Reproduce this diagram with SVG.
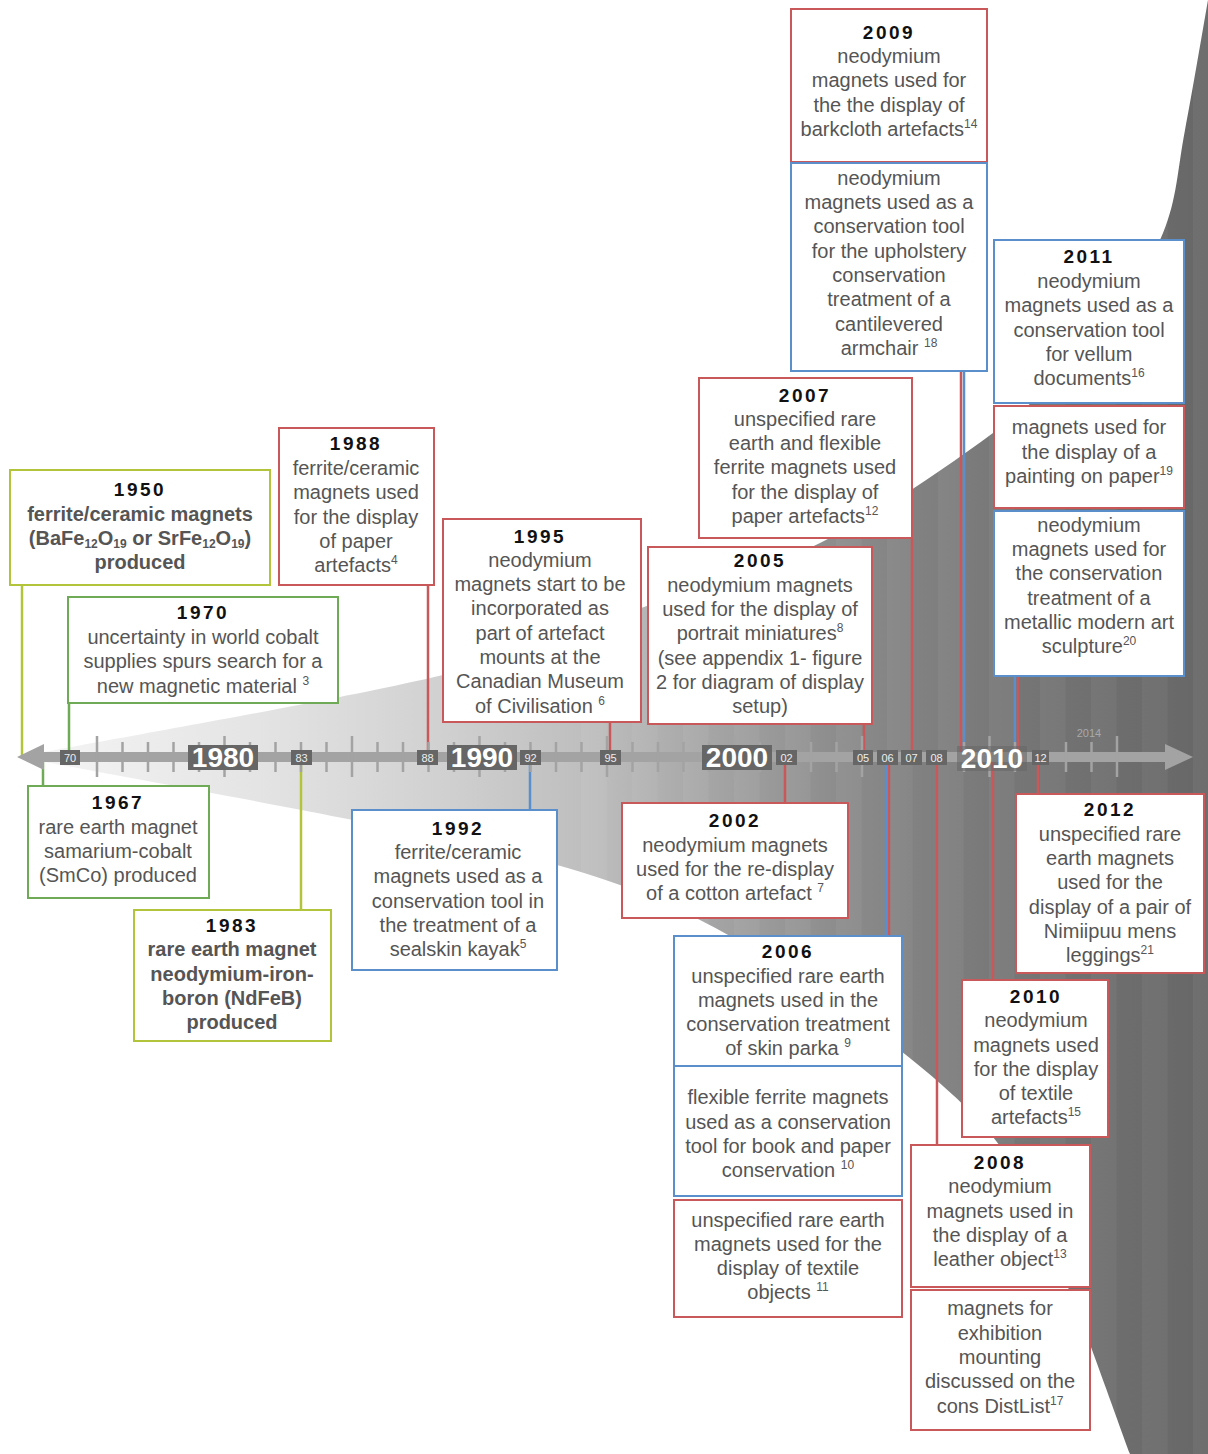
<svg xmlns="http://www.w3.org/2000/svg" width="1208" height="1454" viewBox="0 0 1208 1454">
<defs>
<linearGradient id="wg" gradientUnits="userSpaceOnUse" x1="18" y1="0" x2="1208" y2="0">
<stop offset="0" stop-color="#f6f6f6"/>
<stop offset="0.2" stop-color="#e4e4e4"/>
<stop offset="0.36" stop-color="#d0d0d0"/>
<stop offset="0.49" stop-color="#bcbcbc"/>
<stop offset="0.57" stop-color="#a8a8a8"/>
<stop offset="0.68" stop-color="#8e8e8e"/>
<stop offset="0.75" stop-color="#828282"/>
<stop offset="0.83" stop-color="#777777"/>
<stop offset="0.92" stop-color="#6e6e6e"/>
<stop offset="1" stop-color="#676767"/>
</linearGradient>
<clipPath id="wc"><path d="M18,757 C88.8,743.3 338.7,700 443,675 C547.3,650 581.2,629 644,607 C706.8,585 761.8,572 820,543 C878.2,514 946.3,467.7 993,433 C1039.7,398.3 1071.7,368.3 1100,335 C1128.3,301.7 1148.8,267.2 1163,233 C1177.2,198.8 1177.5,168.8 1185,130 C1192.5,91.2 1204.2,21.7 1208,0 L1208,1454 L1130,1454 C1118.3,1423 1082.8,1320.8 1060,1268 C1037.2,1215.2 1026.3,1178.3 993,1137 C959.7,1095.7 908.8,1056.2 860,1020 C811.2,983.8 750.5,945.8 700,920 C649.5,894.2 614.8,881.7 557,865 C499.2,848.3 442.8,838 353,820 C263.2,802 73.8,767.5 18,757 Z"/></clipPath>
<pattern id="stripes" patternUnits="userSpaceOnUse" x="581" y="0" width="51" height="20">
<rect x="0" y="0" width="25.5" height="20" fill="#ffffff" fill-opacity="0.045"/>
</pattern>
<style>
.box{fill:#fff;stroke-width:2}
.r{stroke:#c9585b}
.b{stroke:#5b8fcb}
.g{stroke:#6faa56}
.y{stroke:#b2c53a}
.t{font-family:"Liberation Sans",Arial,sans-serif;font-size:20px;fill:#555;text-anchor:middle}
.yr{font-weight:bold;fill:#111;letter-spacing:2.5px;font-size:19px}
.bd{font-weight:bold}
.sup{font-size:12px}
.sub{font-size:12px}
.cr{stroke:#c9585b;stroke-width:2.5}
.cb{stroke:#5b8fcb;stroke-width:2.5}
.cg{stroke:#6faa56;stroke-width:2.5}
.cy{stroke:#b2c53a;stroke-width:2.5}
.tk{stroke:#a3a3a3;stroke-width:2.5}
.lbl{fill:#666}
.big{font-family:"Liberation Sans",Arial,sans-serif;font-size:28px;font-weight:bold;fill:#fff;text-anchor:middle}
.sm{font-family:"Liberation Sans",Arial,sans-serif;font-size:11px;fill:#eee;text-anchor:middle}
</style>
</defs>
<rect width="1208" height="1454" fill="#fff"/>
<g id="wedge">
<rect x="0" y="0" width="1208" height="1454" fill="url(#wg)" clip-path="url(#wc)"/>
<rect x="581" y="0" width="627" height="1454" fill="url(#stripes)" clip-path="url(#wc)"/>
</g>
<g id="connectors">
<line class="cy" x1="22" y1="585" x2="22" y2="757"/>
<line class="cg" x1="69" y1="703" x2="69" y2="757"/>
<line class="cg" x1="43" y1="757" x2="43" y2="786"/>
<line class="cy" x1="301" y1="757" x2="301" y2="910"/>
<line class="cr" x1="428" y1="585" x2="428" y2="757"/>
<line class="cb" x1="530" y1="757" x2="530" y2="810"/>
<line class="cr" x1="610" y1="722" x2="610" y2="757"/>
<line class="cr" x1="864" y1="724" x2="864" y2="757"/>
<line class="cr" x1="785" y1="757" x2="785" y2="803"/>
<line class="cr" x1="912" y1="538" x2="912" y2="757"/>
<line class="cr" x1="961" y1="371" x2="961" y2="757"/>
<line class="cb" x1="964" y1="371" x2="964" y2="757"/>
<line class="cb" x1="1015" y1="676" x2="1015" y2="757"/>
<line class="cr" x1="1018" y1="676" x2="1018" y2="757"/>
<line class="cr" x1="1038" y1="757" x2="1038" y2="794"/>
<line class="cr" x1="993" y1="757" x2="993" y2="980"/>
<line class="cb" x1="886" y1="757" x2="886" y2="936"/>
<line class="cr" x1="889" y1="757" x2="889" y2="936"/>
<line class="cr" x1="937" y1="757" x2="937" y2="1145"/>
</g>
<g id="axis">
<rect x="40" y="752" width="1128" height="10" fill="#a3a3a3"/>
<polygon points="17,757 44,744 44,770" fill="#a3a3a3"/>
<polygon points="1193,757 1165,744 1165,770" fill="#a3a3a3"/>
<line class="tk" x1="97" y1="736" x2="97" y2="777"/>
<line class="tk" x1="122.5" y1="742" x2="122.5" y2="772"/>
<line class="tk" x1="148" y1="742" x2="148" y2="772"/>
<line class="tk" x1="173.5" y1="742" x2="173.5" y2="772"/>
<line class="tk" x1="199" y1="742" x2="199" y2="772"/>
<line class="tk" x1="224.5" y1="736" x2="224.5" y2="777"/>
<line class="tk" x1="250" y1="742" x2="250" y2="772"/>
<line class="tk" x1="275.5" y1="742" x2="275.5" y2="772"/>
<line class="tk" x1="301" y1="742" x2="301" y2="772"/>
<line class="tk" x1="326.5" y1="742" x2="326.5" y2="772"/>
<line class="tk" x1="352" y1="736" x2="352" y2="777"/>
<line class="tk" x1="377.5" y1="742" x2="377.5" y2="772"/>
<line class="tk" x1="403" y1="742" x2="403" y2="772"/>
<line class="tk" x1="428.5" y1="742" x2="428.5" y2="772"/>
<line class="tk" x1="454" y1="742" x2="454" y2="772"/>
<line class="tk" x1="479.5" y1="736" x2="479.5" y2="777"/>
<line class="tk" x1="505" y1="742" x2="505" y2="772"/>
<line class="tk" x1="530.5" y1="742" x2="530.5" y2="772"/>
<line class="tk" x1="556" y1="742" x2="556" y2="772"/>
<line class="tk" x1="581.5" y1="742" x2="581.5" y2="772"/>
<line class="tk" x1="607" y1="736" x2="607" y2="777"/>
<line class="tk" x1="632.5" y1="742" x2="632.5" y2="772"/>
<line class="tk" x1="658" y1="742" x2="658" y2="772"/>
<line class="tk" x1="683.5" y1="742" x2="683.5" y2="772"/>
<line class="tk" x1="709" y1="742" x2="709" y2="772"/>
<line class="tk" x1="734.5" y1="736" x2="734.5" y2="777"/>
<line class="tk" x1="760" y1="742" x2="760" y2="772"/>
<line class="tk" x1="811" y1="742" x2="811" y2="772"/>
<line class="tk" x1="836.5" y1="742" x2="836.5" y2="772"/>
<line class="tk" x1="862" y1="736" x2="862" y2="777"/>
<line class="tk" x1="964" y1="742" x2="964" y2="772"/>
<line class="tk" x1="989.5" y1="736" x2="989.5" y2="777"/>
<line class="tk" x1="1015" y1="742" x2="1015" y2="772"/>
<line class="tk" x1="1066" y1="742" x2="1066" y2="772"/>
<line class="tk" x1="1091.5" y1="742" x2="1091.5" y2="772"/>
<line class="tk" x1="1117" y1="736" x2="1117" y2="777"/>
<rect class="lbl" x="188" y="745" width="70" height="25"/>
<text class="big" x="223" y="767">1980</text>
<rect class="lbl" x="447" y="745" width="70" height="25"/>
<text class="big" x="482" y="767">1990</text>
<rect class="lbl" x="702" y="745" width="70" height="25"/>
<text class="big" x="737" y="767">2000</text>
<rect class="lbl" x="957" y="746" width="70" height="25" fill-opacity="0.55"/>
<text class="big" x="992" y="768">2010</text>
<rect class="lbl" x="60" y="750" width="20" height="15"/><text class="sm" x="70" y="761.5">70</text>
<rect class="lbl" x="291" y="750" width="21" height="15"/><text class="sm" x="301.5" y="761.5">83</text>
<rect class="lbl" x="417" y="750" width="21" height="15"/><text class="sm" x="427.5" y="761.5">88</text>
<rect class="lbl" x="520" y="750" width="21" height="15"/><text class="sm" x="530.5" y="761.5">92</text>
<rect class="lbl" x="600" y="750" width="21" height="15"/><text class="sm" x="610.5" y="761.5">95</text>
<rect class="lbl" x="776" y="750" width="21" height="15"/><text class="sm" x="786.5" y="761.5">02</text>
<rect class="lbl" x="853" y="750" width="20" height="15"/><text class="sm" x="863" y="761.5">05</text>
<rect class="lbl" x="877" y="750" width="21" height="15"/><text class="sm" x="887.5" y="761.5">06</text>
<rect class="lbl" x="901" y="750" width="21" height="15"/><text class="sm" x="911.5" y="761.5">07</text>
<rect class="lbl" x="926" y="750" width="21" height="15"/><text class="sm" x="936.5" y="761.5">08</text>
<rect class="lbl" x="1032" y="750" width="17" height="15"/><text class="sm" x="1040.5" y="761.5">12</text>
<text class="sm" x="1089" y="737" style="fill:#a9a9a9">2014</text>
</g>
<g id="n1950">
<rect class="box y" x="10" y="470" width="260" height="115"/>
<text class="t"><tspan class="yr" x="140" y="496">1950</tspan><tspan class="bd" x="140" y="521">ferrite/ceramic magnets</tspan><tspan class="bd" x="140" y="545">(BaFe<tspan class="sub" dy="3">12</tspan><tspan dy="-3">O</tspan><tspan class="sub" dy="3">19</tspan><tspan dy="-3"> or SrFe</tspan><tspan class="sub" dy="3">12</tspan><tspan dy="-3">O</tspan><tspan class="sub" dy="3">19</tspan><tspan dy="-3">)</tspan></tspan><tspan class="bd" x="140" y="569">produced</tspan></text>
</g>
<g id="n1970">
<rect class="box g" x="68" y="597" width="270" height="106"/>
<text class="t"><tspan class="yr" x="203" y="619">1970</tspan><tspan x="203" y="644">uncertainty in world cobalt</tspan><tspan x="203" y="668">supplies spurs search for a</tspan><tspan x="203" y="693">new magnetic material <tspan class="sup" dy="-8">3</tspan></tspan></text>
</g>
<g id="n1967">
<rect class="box g" x="28" y="786" width="181" height="112"/>
<text class="t"><tspan class="yr" x="118" y="809">1967</tspan><tspan x="118" y="834">rare earth magnet</tspan><tspan x="118" y="858">samarium-cobalt</tspan><tspan x="118" y="882">(SmCo) produced</tspan></text>
</g>
<g id="n1983">
<rect class="box y" x="134" y="910" width="197" height="131"/>
<text class="t"><tspan class="yr" x="232" y="932">1983</tspan><tspan class="bd" x="232" y="956">rare earth magnet</tspan><tspan class="bd" x="232" y="981">neodymium-iron-</tspan><tspan class="bd" x="232" y="1005">boron (NdFeB)</tspan><tspan class="bd" x="232" y="1029">produced</tspan></text>
</g>
<g id="n1988">
<rect class="box r" x="279" y="428" width="155" height="157"/>
<text class="t"><tspan class="yr" x="356" y="450">1988</tspan><tspan x="356" y="475">ferrite/ceramic</tspan><tspan x="356" y="499">magnets used</tspan><tspan x="356" y="524">for the display</tspan><tspan x="356" y="548">of paper</tspan><tspan x="356" y="572">artefacts<tspan class="sup" dy="-8">4</tspan></tspan></text>
</g>
<g id="n1992">
<rect class="box b" x="352" y="810" width="205" height="160"/>
<text class="t"><tspan class="yr" x="458" y="835">1992</tspan><tspan x="458" y="859">ferrite/ceramic</tspan><tspan x="458" y="883">magnets used as a</tspan><tspan x="458" y="908">conservation tool in</tspan><tspan x="458" y="932">the treatment of a</tspan><tspan x="458" y="956">sealskin kayak<tspan class="sup" dy="-8">5</tspan></tspan></text>
</g>
<g id="n1995">
<rect class="box r" x="443" y="519" width="198" height="203"/>
<text class="t"><tspan class="yr" x="540" y="543">1995</tspan><tspan x="540" y="567">neodymium</tspan><tspan x="540" y="591">magnets start to be</tspan><tspan x="540" y="615">incorporated as</tspan><tspan x="540" y="640">part of artefact</tspan><tspan x="540" y="664">mounts at the</tspan><tspan x="540" y="688">Canadian Museum</tspan><tspan x="540" y="713">of Civilisation <tspan class="sup" dy="-8">6</tspan></tspan></text>
</g>
<g id="n2005">
<rect class="box r" x="648" y="547" width="224" height="177"/>
<text class="t"><tspan class="yr" x="760" y="567">2005</tspan><tspan x="760" y="592">neodymium magnets</tspan><tspan x="760" y="616">used for the display of</tspan><tspan x="760" y="640">portrait miniatures<tspan class="sup" dy="-8">8</tspan></tspan><tspan x="760" y="665">(see appendix 1- figure</tspan><tspan x="760" y="689">2 for diagram of display</tspan><tspan x="760" y="713">setup)</tspan></text>
</g>
<g id="n2002">
<rect class="box r" x="622" y="803" width="226" height="115"/>
<text class="t"><tspan class="yr" x="735" y="827">2002</tspan><tspan x="735" y="852">neodymium magnets</tspan><tspan x="735" y="876">used for the re-display</tspan><tspan x="735" y="900">of a cotton artefact <tspan class="sup" dy="-8">7</tspan></tspan></text>
</g>
<g id="n2007">
<rect class="box r" x="699" y="378" width="213" height="160"/>
<text class="t"><tspan class="yr" x="805" y="402">2007</tspan><tspan x="805" y="426">unspecified rare</tspan><tspan x="805" y="450">earth and flexible</tspan><tspan x="805" y="474">ferrite magnets used</tspan><tspan x="805" y="499">for the display of</tspan><tspan x="805" y="523">paper artefacts<tspan class="sup" dy="-8">12</tspan></tspan></text>
</g>
<g id="n2009">
<rect class="box r" x="791" y="9" width="196" height="153"/>
<text class="t"><tspan class="yr" x="889" y="39">2009</tspan><tspan x="889" y="63">neodymium</tspan><tspan x="889" y="87">magnets used for</tspan><tspan x="889" y="112">the the display of</tspan><tspan x="889" y="136">barkcloth artefacts<tspan class="sup" dy="-8">14</tspan></tspan></text>
</g>
<g id="n2009b">
<rect class="box b" x="791" y="163" width="196" height="208"/>
<text class="t"><tspan x="889" y="185">neodymium</tspan><tspan x="889" y="209">magnets used as a</tspan><tspan x="889" y="233">conservation tool</tspan><tspan x="889" y="258">for the upholstery</tspan><tspan x="889" y="282">conservation</tspan><tspan x="889" y="306">treatment of a</tspan><tspan x="889" y="331">cantilevered</tspan><tspan x="889" y="355">armchair <tspan class="sup" dy="-8">18</tspan></tspan></text>
</g>
<g id="n2011">
<rect class="box b" x="994" y="240" width="190" height="163"/>
<text class="t"><tspan class="yr" x="1089" y="263">2011</tspan><tspan x="1089" y="288">neodymium</tspan><tspan x="1089" y="312">magnets used as a</tspan><tspan x="1089" y="337">conservation tool</tspan><tspan x="1089" y="361">for vellum</tspan><tspan x="1089" y="385">documents<tspan class="sup" dy="-8">16</tspan></tspan></text>
</g>
<g id="n2011b">
<rect class="box r" x="994" y="406" width="190" height="102"/>
<text class="t"><tspan x="1089" y="434">magnets used for</tspan><tspan x="1089" y="459">the display of a</tspan><tspan x="1089" y="483">painting on paper<tspan class="sup" dy="-8">19</tspan></tspan></text>
</g>
<g id="n2011c">
<rect class="box b" x="994" y="511" width="190" height="165"/>
<text class="t"><tspan x="1089" y="532">neodymium</tspan><tspan x="1089" y="556">magnets used for</tspan><tspan x="1089" y="580">the conservation</tspan><tspan x="1089" y="605">treatment of a</tspan><tspan x="1089" y="629">metallic modern art</tspan><tspan x="1089" y="653">sculpture<tspan class="sup" dy="-8">20</tspan></tspan></text>
</g>
<g id="n2012">
<rect class="box r" x="1016" y="794" width="188" height="179"/>
<text class="t"><tspan class="yr" x="1110" y="816">2012</tspan><tspan x="1110" y="841">unspecified rare</tspan><tspan x="1110" y="865">earth magnets</tspan><tspan x="1110" y="889">used for the</tspan><tspan x="1110" y="914">display of a pair of</tspan><tspan x="1110" y="938">Nimiipuu mens</tspan><tspan x="1110" y="962">leggings<tspan class="sup" dy="-8">21</tspan></tspan></text>
</g>
<g id="n2010">
<rect class="box r" x="962" y="980" width="146" height="157"/>
<text class="t"><tspan class="yr" x="1036" y="1003">2010</tspan><tspan x="1036" y="1027">neodymium</tspan><tspan x="1036" y="1052">magnets used</tspan><tspan x="1036" y="1076">for the display</tspan><tspan x="1036" y="1100">of textile</tspan><tspan x="1036" y="1124">artefacts<tspan class="sup" dy="-8">15</tspan></tspan></text>
</g>
<g id="n2006">
<rect class="box b" x="674" y="936" width="228" height="130"/>
<text class="t"><tspan class="yr" x="788" y="958">2006</tspan><tspan x="788" y="983">unspecified rare earth</tspan><tspan x="788" y="1007">magnets used in the</tspan><tspan x="788" y="1031">conservation treatment</tspan><tspan x="788" y="1055">of skin parka <tspan class="sup" dy="-8">9</tspan></tspan></text>
</g>
<g id="n2006b">
<rect class="box b" x="674" y="1066" width="228" height="130"/>
<text class="t"><tspan x="788" y="1104">flexible ferrite magnets</tspan><tspan x="788" y="1129">used as a conservation</tspan><tspan x="788" y="1153">tool for book and paper</tspan><tspan x="788" y="1177">conservation <tspan class="sup" dy="-8">10</tspan></tspan></text>
</g>
<g id="n2006c">
<rect class="box r" x="674" y="1200" width="228" height="117"/>
<text class="t"><tspan x="788" y="1227">unspecified rare earth</tspan><tspan x="788" y="1251">magnets used for the</tspan><tspan x="788" y="1275">display of textile</tspan><tspan x="788" y="1299">objects <tspan class="sup" dy="-8">11</tspan></tspan></text>
</g>
<g id="n2008">
<rect class="box r" x="911" y="1145" width="179" height="142"/>
<text class="t"><tspan class="yr" x="1000" y="1169">2008</tspan><tspan x="1000" y="1193">neodymium</tspan><tspan x="1000" y="1218">magnets used in</tspan><tspan x="1000" y="1242">the display of a</tspan><tspan x="1000" y="1266">leather object<tspan class="sup" dy="-8">13</tspan></tspan></text>
</g>
<g id="n2008b">
<rect class="box r" x="911" y="1290" width="179" height="140"/>
<text class="t"><tspan x="1000" y="1315">magnets for</tspan><tspan x="1000" y="1340">exhibition</tspan><tspan x="1000" y="1364">mounting</tspan><tspan x="1000" y="1388">discussed on the</tspan><tspan x="1000" y="1413">cons DistList<tspan class="sup" dy="-8">17</tspan></tspan></text>
</g>
</svg>
